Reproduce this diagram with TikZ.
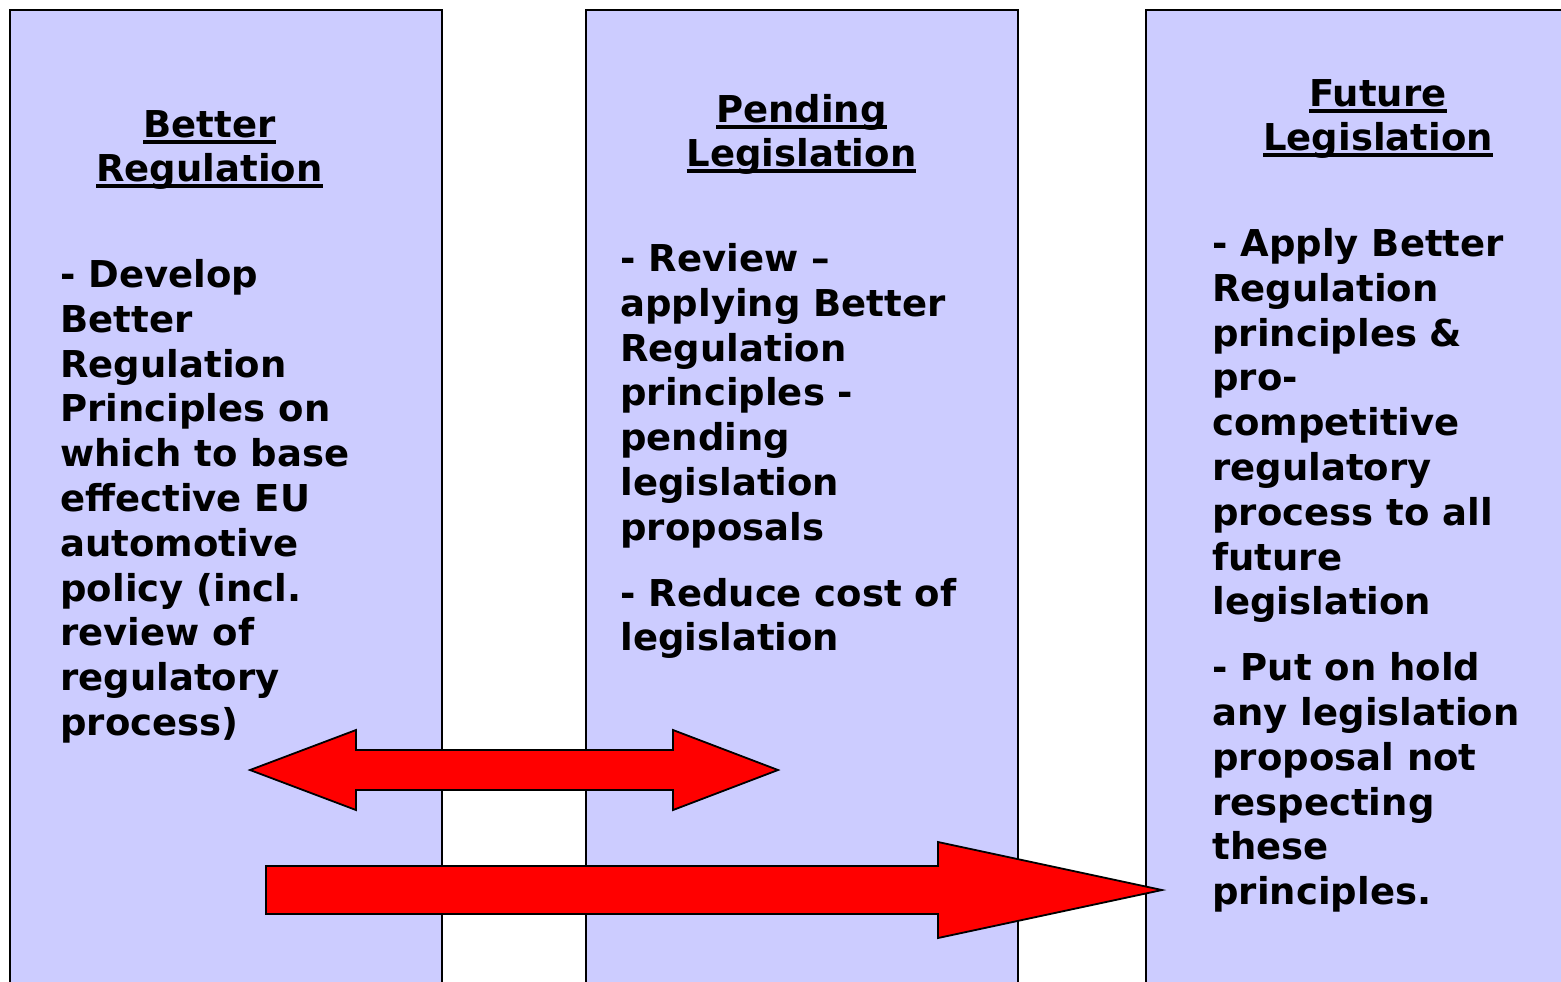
\documentclass[tikz,border=0pt]{standalone}
\usepackage{fontspec}
\setmainfont{DejaVu Sans}
\definecolor{lavender}{HTML}{CCCCFF}
\newsavebox\ttlbox
\newcommand\ttlul[1]{\sbox\ttlbox{#1}\rlap{\rule[-3.1pt]{\wd\ttlbox}{1.6pt}}\usebox\ttlbox}
\newcommand\topstrut{\rule{0pt}{20pt}}
\begin{document}
\begin{tikzpicture}[x=0.5pt,y=-0.5pt]
\tikzstyle{every node}+=[inner sep=0pt]
\tikzstyle{column}=[draw=black,line width=1pt,fill=lavender]
\tikzstyle{bigarrow}=[draw=black,line width=0.9pt,fill=red,line join=miter]
\tikzstyle{heading}=[anchor=north,align=center,font=\bfseries\fontsize{18.5pt}{22pt}\selectfont]
\tikzstyle{body}=[anchor=north west,align=left,font=\bfseries\fontsize{18.5pt}{22.4pt}\selectfont]
\useasboundingbox (0,0) rectangle (1561,981);
\clip (0,0) rectangle (1561,981);
\fill [white] (0,0) rectangle (1561,981);
\draw [column] (10,10) rectangle (442,1000);
\draw [column] (586,10) rectangle (1018,1000);
\draw [column] (1146,10) rectangle (1600,1000);
\draw [bigarrow] (250,770) -- (356,730) -- (356,750) -- (673,750) -- (673,730) -- (778,770)
  -- (673,810) -- (673,790) -- (356,790) -- (356,810) -- cycle;
\draw [bigarrow] (266,866) -- (938,866) -- (938,842) -- (1162,890) -- (938,938) -- (938,914)
  -- (266,914) -- cycle;
\node [heading] (bettertitle) at (209.5,97) {\topstrut\ttlul{Better}\\\ttlul{Regulation}};
\node [body] (betterbody) at (60,247) {\topstrut- Develop\\Better\\Regulation\\Principles on\\which to base\\effective EU\\automotive\\policy (incl.\\review of\\regulatory\\process)};
\node [heading] (pendingtitle) at (801.5,82) {\topstrut\ttlul{Pending}\\\ttlul{Legislation}};
\node [body] (pendingbody) at (620,231) {\topstrut- Review –\\applying Better\\Regulation\\principles -\\pending\\legislation\\proposals\\[10.5pt]- Reduce cost of\\legislation};
\node [heading] (futuretitle) at (1378,66) {\topstrut\ttlul{Future}\\\ttlul{Legislation}};
\node [body] (futurebody) at (1212,216) {\topstrut- Apply Better\\Regulation\\principles \&\\pro-\\competitive\\regulatory\\process to all\\future\\legislation\\[10.5pt]- Put on hold\\any legislation\\proposal not\\respecting\\these\\principles.};
\end{tikzpicture}
\end{document}
